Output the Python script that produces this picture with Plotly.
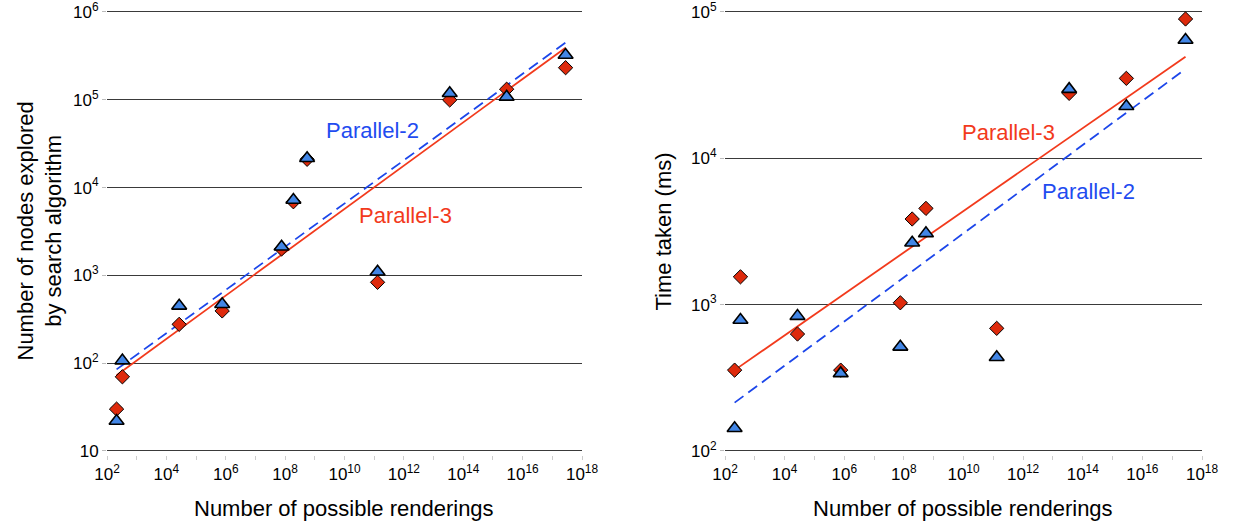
import plotly.graph_objects as go

# ---------------- data ----------------
renderings = [2.1e2, 3.3e2, 2.7e4, 7.6e5, 7.6e7, 1.9e8, 5.5e8, 1.3e11, 3.5e13, 2.9e15, 2.8e17]

nodes_par2 = [22, 107, 450, 470, 2120, 7230, 21600, 1100, 118600, 108000, 324000]
nodes_par3 = [30, 70, 277, 394, 2000, 6900, 21000, 834, 99600, 132000, 232000]

time_par2 = [143, 785, 835, 339, 515, 2650, 3070, 437, 29700, 22700, 64400]
time_par3 = [357, 1550, 630, 357, 1030, 3850, 4550, 689, 27800, 35200, 89600]

fit_x = [2.1e2, 2.8e17]
nodes_fit_par2 = [85, 448000]
nodes_fit_par3 = [73, 392000]
time_fit_par2 = [214, 40800]
time_fit_par3 = [357, 49500]

x_major_vals = [10 ** k for k in range(2, 19, 2)]
x_major_text = [f"10<sup>{k}</sup>" for k in range(2, 19, 2)]
x_minor_vals = [10 ** k for k in range(3, 18, 2)]
nodes_tick_vals = [10, 1e2, 1e3, 1e4, 1e5, 1e6]
nodes_tick_text = ["10", "10<sup>2</sup>", "10<sup>3</sup>", "10<sup>4</sup>", "10<sup>5</sup>", "10<sup>6</sup>"]
time_tick_vals = [1e2, 1e3, 1e4, 1e5]
time_tick_text = ["10<sup>2</sup>", "10<sup>3</sup>", "10<sup>4</sup>", "10<sup>5</sup>"]

# ---------------- style ----------------
FONT = "Liberation Sans, Arial, Helvetica, sans-serif"
RED_LINE = "#f23a1c"
BLUE_LINE = "#1c46ea"
RED_FILL = "#de2a0c"
BLUE_FILL = "#4286e6"
W, H = 1233, 525
EPS = 0.035  # small padding (in decades) so edge gridlines are drawn

def px_x(p):
    return p / W

def px_y(p):
    return 1 - p / H

fig = go.Figure()

def add_panel(xa, ya, y2, y3, f2, f3):
    fig.add_trace(go.Scatter(x=fit_x, y=f3, mode="lines", xaxis=xa, yaxis=ya,
                             line=dict(color=RED_LINE, width=1.8), showlegend=False,
                             hoverinfo="skip"))
    fig.add_trace(go.Scatter(x=fit_x, y=f2, mode="lines", xaxis=xa, yaxis=ya,
                             line=dict(color=BLUE_LINE, width=1.8, dash="11px,6px"),
                             showlegend=False, hoverinfo="skip"))
    fig.add_trace(go.Scatter(x=renderings, y=y3, mode="markers", xaxis=xa, yaxis=ya,
                             name="Parallel-3", showlegend=False, cliponaxis=False,
                             marker=dict(symbol="diamond", size=11, color=RED_FILL,
                                         line=dict(color="black", width=1))))
    fig.add_trace(go.Scatter(x=renderings, y=y2, mode="markers", xaxis=xa, yaxis=ya,
                             name="Parallel-2", showlegend=False, cliponaxis=False,
                             marker=dict(symbol="triangle-up", size=13, color=BLUE_FILL,
                                         line=dict(color="black", width=1.6))))

add_panel("x", "y", nodes_par2, nodes_par3, nodes_fit_par2, nodes_fit_par3)
add_panel("x2", "y2", time_par2, time_par3, time_fit_par2, time_fit_par3)

# pixel geometry of the two panels (top gridline at 12 px, bottom at 451 px)
top_px, bot_px = 12, 451
ppd_left = (bot_px - top_px) / 5.0   # pixels per decade, left y
ppd_right = (bot_px - top_px) / 3.0  # pixels per decade, right y
ydom1 = [px_y(bot_px + EPS * ppd_left), px_y(top_px - EPS * ppd_left)]
ydom2 = [px_y(bot_px + EPS * ppd_right), px_y(top_px - EPS * ppd_right)]
xdom1 = [px_x(107), px_x(582)]
xdom2 = [px_x(725), px_x(1202)]
xpos = px_y(455)

xcommon = dict(type="log", range=[2, 18], tickvals=x_major_vals, ticktext=x_major_text,
               showgrid=False, zeroline=False, showline=False, ticks="outside",
               ticklen=4, tickwidth=1, tickcolor="#cccccc", automargin=False,
               ticklabeloverflow="allow",
               minor=dict(tickvals=x_minor_vals, ticks="outside", ticklen=4,
                          tickwidth=1, tickcolor="#cccccc", showgrid=False),
               tickfont=dict(family=FONT, size=17, color="black"),
               anchor="free", position=xpos)
ycommon = dict(type="log", showgrid=True, gridcolor="#3a3a3a", gridwidth=1.2,
               zeroline=False, showline=False, ticks="outside", ticklen=4,
               tickwidth=1, tickcolor="#bbbbbb", automargin=False,
               ticklabeloverflow="allow",
               tickfont=dict(family=FONT, size=17, color="black"))

fig.update_layout(
    width=W, height=H,
    margin=dict(l=0, r=0, t=0, b=0, autoexpand=False),
    paper_bgcolor="white", plot_bgcolor="white",
    xaxis=dict(domain=xdom1, **xcommon),
    yaxis=dict(range=[1 - EPS, 6 + EPS], tickvals=nodes_tick_vals, ticktext=nodes_tick_text,
               anchor="x", domain=ydom1, **ycommon),
    xaxis2=dict(domain=xdom2, **xcommon),
    yaxis2=dict(range=[2 - EPS, 5 + EPS], tickvals=time_tick_vals, ticktext=time_tick_text,
                anchor="x2", domain=ydom2, **ycommon),
)

def ann(text, x, y, size=22, color="black", angle=0):
    fig.add_annotation(text=text, xref="paper", yref="paper", x=px_x(x), y=px_y(y),
                       xanchor="center", yanchor="middle", showarrow=False,
                       textangle=angle, font=dict(family=FONT, size=size, color=color))

ann("Number of possible renderings", 344.5, 508)
ann("Number of possible renderings", 963.5, 508)
ann("Number of nodes explored<br>by search algorithm", 39, 231.5, angle=-90)
ann("Time taken (ms)", 663, 231.5, angle=-90)
ann("Parallel-2", 372, 131, color="#1f4cf0")
ann("Parallel-3", 405, 215, color="#f23a1c")
ann("Parallel-3", 1008, 132, color="#f23a1c")
ann("Parallel-2", 1088, 192, color="#1f4cf0")

fig.write_html("out.html",
               config={"displayModeBar": False},
               post_script="document.body.style.margin='0px';document.body.style.padding='0px';")
